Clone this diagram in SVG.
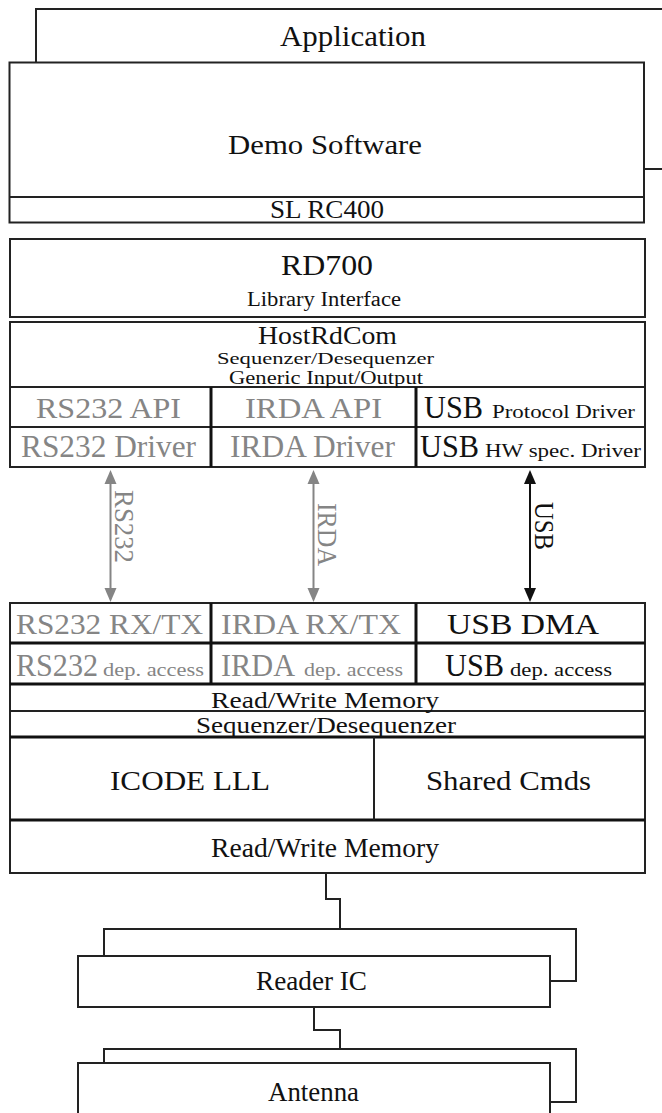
<svg xmlns="http://www.w3.org/2000/svg" width="662" height="1113" viewBox="0 0 662 1113">
<style>
.box{fill:#fff;stroke:#222;stroke-width:2}
.ln{stroke:#222;stroke-width:2;fill:none}
.thick{stroke:#111;stroke-width:3;fill:none}
.t{font-family:"Liberation Serif","Times New Roman",serif;fill:#111}
.g{fill:#858585}
.conn{stroke:#222;stroke-width:2;fill:none}
.ag{stroke:#858585;stroke-width:2;fill:none}
.ab{stroke:#111;stroke-width:2;fill:none}
</style>
<defs>
<marker id="mg" viewBox="0 -7 14 14" markerWidth="14" markerHeight="14" refX="0" refY="0" orient="auto-start-reverse" markerUnits="userSpaceOnUse"><path d="M0,-6 L14,0 L0,6 Z" fill="#858585"/></marker>
<marker id="mb" viewBox="0 -7 14 14" markerWidth="14" markerHeight="14" refX="0" refY="0" orient="auto-start-reverse" markerUnits="userSpaceOnUse"><path d="M0,-6 L14,0 L0,6 Z" fill="#111"/></marker>
</defs>
<rect width="662" height="1113" fill="#fff"/>

<g id="application">
<rect class="box" x="36" y="9" width="650" height="160"/>
<text class="t" x="280" y="46" font-size="29" textLength="146" lengthAdjust="spacingAndGlyphs">Application</text>
</g>

<g id="demo-software">
<rect class="box" x="9.5" y="62.5" width="634.5" height="160"/>
<line class="ln" x1="9.5" y1="197" x2="644" y2="197"/>
<text class="t" x="228" y="154" font-size="27" textLength="194" lengthAdjust="spacingAndGlyphs">Demo Software</text>
<text class="t" x="270" y="218" font-size="25" textLength="114" lengthAdjust="spacingAndGlyphs">SL RC400</text>
</g>

<g id="rd700">
<rect class="box" x="10" y="239" width="635" height="78"/>
<text class="t" x="281" y="275" font-size="30" textLength="92" lengthAdjust="spacingAndGlyphs">RD700</text>
<text class="t" x="247" y="306" font-size="20" textLength="154" lengthAdjust="spacingAndGlyphs">Library Interface</text>
</g>

<g id="hostrdcom">
<rect class="box" x="10" y="322" width="635" height="145"/>
<line class="ln" x1="10" y1="387" x2="645" y2="387"/>
<line class="ln" x1="10" y1="427" x2="645" y2="427"/>
<line class="thick" x1="211" y1="387" x2="211" y2="467"/>
<line class="thick" x1="416" y1="387" x2="416" y2="467"/>
<text class="t" x="258" y="344" font-size="25" textLength="139" lengthAdjust="spacingAndGlyphs">HostRdCom</text>
<text class="t" x="217" y="364" font-size="16" textLength="217" lengthAdjust="spacingAndGlyphs">Sequenzer/Desequenzer</text>
<text class="t" x="229" y="384" font-size="18" textLength="194" lengthAdjust="spacingAndGlyphs">Generic Input/Output</text>
<text class="t g" x="36" y="418" font-size="30" textLength="145" lengthAdjust="spacingAndGlyphs">RS232 API</text>
<text class="t g" x="245" y="418" font-size="30" textLength="137" lengthAdjust="spacingAndGlyphs">IRDA API</text>
<text class="t" x="424" y="418" font-size="31" textLength="59" lengthAdjust="spacingAndGlyphs">USB</text>
<text class="t" x="492" y="418" font-size="18" textLength="143" lengthAdjust="spacingAndGlyphs">Protocol Driver</text>
<text class="t g" x="21" y="457" font-size="31" textLength="175" lengthAdjust="spacingAndGlyphs">RS232 Driver</text>
<text class="t g" x="230" y="457" font-size="31" textLength="165" lengthAdjust="spacingAndGlyphs">IRDA Driver</text>
<text class="t" x="420" y="457" font-size="31" textLength="59" lengthAdjust="spacingAndGlyphs">USB</text>
<text class="t" x="485" y="457" font-size="19" textLength="156" lengthAdjust="spacingAndGlyphs">HW spec. Driver</text>
</g>

<g id="lower-stack">
<rect class="box" x="10" y="603" width="635" height="270"/>
<line class="thick" x1="10" y1="643" x2="645" y2="643"/>
<line class="thick" x1="10" y1="684" x2="645" y2="684"/>
<line class="ln" x1="10" y1="711" x2="645" y2="711"/>
<line class="thick" x1="10" y1="737" x2="645" y2="737"/>
<line class="thick" x1="10" y1="820" x2="645" y2="820"/>
<line class="thick" x1="211" y1="603" x2="211" y2="684"/>
<line class="thick" x1="416" y1="603" x2="416" y2="684"/>
<line class="ln" x1="374" y1="737" x2="374" y2="820"/>
<text class="t g" x="16" y="634" font-size="30" textLength="187" lengthAdjust="spacingAndGlyphs">RS232 RX/TX</text>
<text class="t g" x="221" y="634" font-size="30" textLength="180" lengthAdjust="spacingAndGlyphs">IRDA RX/TX</text>
<text class="t" x="447" y="634" font-size="30" textLength="152" lengthAdjust="spacingAndGlyphs">USB DMA</text>
<text class="t g" x="16" y="676" font-size="32" textLength="82" lengthAdjust="spacingAndGlyphs">RS232</text>
<text class="t g" x="103" y="676" font-size="19" textLength="101" lengthAdjust="spacingAndGlyphs">dep. access</text>
<text class="t g" x="221" y="676" font-size="32" textLength="74" lengthAdjust="spacingAndGlyphs">IRDA</text>
<text class="t g" x="304" y="676" font-size="19" textLength="99" lengthAdjust="spacingAndGlyphs">dep. access</text>
<text class="t" x="445" y="676" font-size="32" textLength="59" lengthAdjust="spacingAndGlyphs">USB</text>
<text class="t" x="510" y="676" font-size="19" textLength="102" lengthAdjust="spacingAndGlyphs">dep. access</text>
<text class="t" x="211" y="708" font-size="24" textLength="228" lengthAdjust="spacingAndGlyphs">Read/Write Memory</text>
<text class="t" x="196" y="733" font-size="24" textLength="260" lengthAdjust="spacingAndGlyphs">Sequenzer/Desequenzer</text>
<text class="t" x="110" y="790" font-size="28" textLength="160" lengthAdjust="spacingAndGlyphs">ICODE LLL</text>
<text class="t" x="426" y="790" font-size="28" textLength="165" lengthAdjust="spacingAndGlyphs">Shared Cmds</text>
<text class="t" x="211" y="857" font-size="27" textLength="228" lengthAdjust="spacingAndGlyphs">Read/Write Memory</text>
</g>

<g id="reader-ic">
<rect class="box" x="104" y="929" width="472" height="52"/>
<rect class="box" x="78" y="956" width="472" height="51"/>
<text class="t" x="256" y="990" font-size="27" textLength="111" lengthAdjust="spacingAndGlyphs">Reader IC</text>
</g>

<g id="antenna">
<rect class="box" x="104" y="1049" width="472" height="53"/>
<rect class="box" x="78" y="1063" width="472" height="70"/>
<text class="t" x="268" y="1101" font-size="27" textLength="91" lengthAdjust="spacingAndGlyphs">Antenna</text>
</g>

<g id="connectors">
<polyline class="conn" points="326,873 326,899 340,899 340,928"/>
<polyline class="conn" points="314,1007 314,1030 340,1030 340,1048"/>
<line class="ag" x1="110.5" y1="484" x2="110.5" y2="588" marker-start="url(#mg)" marker-end="url(#mg)"/>
<line class="ag" x1="313.5" y1="484" x2="313.5" y2="588" marker-start="url(#mg)" marker-end="url(#mg)"/>
<line class="ab" x1="530" y1="484" x2="530" y2="588" marker-start="url(#mb)" marker-end="url(#mb)"/>
<text class="t g" transform="translate(115,490) rotate(90)" font-size="27" textLength="73" lengthAdjust="spacingAndGlyphs">RS232</text>
<text class="t g" transform="translate(318,503) rotate(90)" font-size="27" textLength="63" lengthAdjust="spacingAndGlyphs">IRDA</text>
<text class="t" transform="translate(535,502) rotate(90)" font-size="27" textLength="48" lengthAdjust="spacingAndGlyphs">USB</text>
</g>
</svg>
